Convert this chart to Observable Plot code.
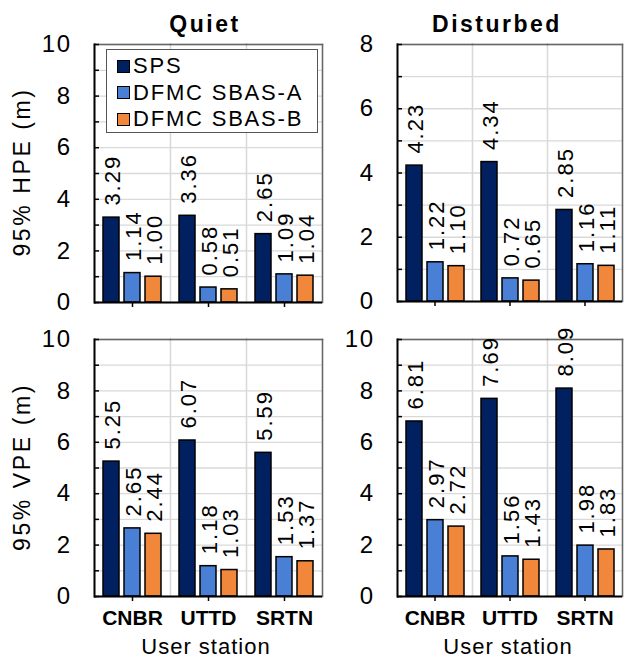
<!DOCTYPE html>
<html><head><meta charset="utf-8">
<script src="https://cdn.jsdelivr.net/npm/d3@7"></script>
<script src="https://cdn.jsdelivr.net/npm/@observablehq/plot@0.6"></script>
<style>
body{margin:0;background:#fff;}
#root{position:relative;width:625px;height:659px;overflow:hidden;font-family:"Liberation Sans",Arial,sans-serif;color:#000;}
.panel{position:absolute;}
.title{position:absolute;font-weight:bold;font-size:23px;letter-spacing:2.5px;width:240px;text-align:center;line-height:26px;}
.ylab{position:absolute;font-size:23px;letter-spacing:2.6px;width:240px;text-align:center;line-height:26px;transform:rotate(-90deg);}
.xlab{position:absolute;font-size:22px;letter-spacing:1px;width:240px;text-align:center;line-height:26px;}
.legend{position:absolute;background:#fff;border:1.5px solid #555;box-sizing:border-box;padding:3px 0 0 10px;}
.legend .row{display:flex;align-items:center;height:26.5px;font-size:22px;letter-spacing:1.8px;white-space:nowrap;}
.legend .sw{width:11px;height:11px;border:1.5px solid #000;margin-right:3px;flex:none;}
</style></head><body><div id="root"></div>
<script>
// ---- data ----
const stations = ["CNBR", "UTTD", "SRTN"];
const seriesNames = ["SPS", "DFMC SBAS-A", "DFMC SBAS-B"];
const seriesColors = ["#002060", "#4a7fd6", "#f0873a"];

const quietHPE_SPS = [3.29, 3.36, 2.65];
const quietHPE_A   = [1.14, 0.58, 1.09];
const quietHPE_B   = [1.00, 0.51, 1.04];

const disturbedHPE_SPS = [4.23, 4.34, 2.85];
const disturbedHPE_A   = [1.22, 0.72, 1.16];
const disturbedHPE_B   = [1.10, 0.65, 1.11];

const quietVPE_SPS = [5.25, 6.07, 5.59];
const quietVPE_A   = [2.65, 1.18, 1.53];
const quietVPE_B   = [2.44, 1.03, 1.37];

const disturbedVPE_SPS = [6.81, 7.69, 8.09];
const disturbedVPE_A   = [2.97, 1.56, 1.98];
const disturbedVPE_B   = [2.72, 1.43, 1.83];

const panelTitles = ["Quiet", "Disturbed"];
const yLabels = ["95% HPE (m)", "95% VPE (m)"];
const xLabel = "User station";

// ---- build ----
const root = document.getElementById("root");

function rowsOf(sps, a, b) {
  const vals = [sps, a, b];
  return stations.flatMap((s, i) => seriesNames.map((n, j) => ({station: s, series: n, value: vals[j][i]})));
}

function makePanel({rows, yMax, left, top, width, height, mL, mR, mT, mB, showStations}) {
  const all = d3.range(0, yMax + 1);
  const even = all.filter(v => v % 2 === 0);
  const fig = Plot.plot({
    width, height,
    marginLeft: mL, marginRight: mR, marginTop: mT, marginBottom: mB,
    style: {background: "transparent", fontFamily: "'Liberation Sans', Arial, sans-serif", overflow: "visible", color: "#000"},
    fx: {domain: stations, padding: 0, label: null},
    x: {domain: seriesNames, axis: null, paddingInner: 0.25, paddingOuter: 0.36},
    y: {domain: [0, yMax], axis: null},
    color: {domain: seriesNames, range: seriesColors},
    marks: [
      Plot.gridY(all, {stroke: "#d9d9d9", strokeOpacity: 1, strokeWidth: 1.3}),
      Plot.frame({stroke: "#d9d9d9", strokeOpacity: 1, strokeWidth: 1.3}),
      Plot.frame({anchor: "top", stroke: "#666", strokeWidth: 1.5}),
      Plot.frame({anchor: "right", facetAnchor: "right", stroke: "#666", strokeWidth: 1.5}),
      Plot.barY(rows, {fx: "station", x: "series", y: "value", fill: "series", stroke: "#000", strokeWidth: 1.5}),
      Plot.text(rows, {fx: "station", x: "series", y: "value", text: d => d.value.toFixed(2),
        rotate: -90, textAnchor: "start", dy: -12, dx: 1, fontSize: 22, fill: "#000",
        style: "letter-spacing:2px"}),
      Plot.ruleY([0], {stroke: "#000", strokeWidth: 2}),
      Plot.frame({anchor: "left", facetAnchor: "left", stroke: "#000", strokeWidth: 2}),
      Plot.axisY(even, {anchor: "left", tickSize: 0, tickPadding: 23, fontSize: 24, label: null}),
      Plot.axisY(all, {anchor: "left", tickSize: 5, dx: 5, fill: "none", label: null, strokeWidth: 1.5}),
      Plot.axisFx({anchor: "bottom", tickSize: 5, tickPadding: 9, fontSize: 21, fontWeight: "bold",
        label: null, strokeWidth: 1.5, ...(showStations ? {} : {fill: "none"})})
    ]
  });
  fig.querySelectorAll("text").forEach(t => {
    if (t.closest("g[aria-label='y-axis tick label']")) t.setAttribute("letter-spacing", "1.5");
  });
  fig.querySelectorAll("g[aria-label='text'] text").forEach(t => t.setAttribute("letter-spacing", "2"));
  const wrap = document.createElement("div");
  wrap.className = "panel";
  wrap.style.left = left + "px";
  wrap.style.top = top + "px";
  wrap.appendChild(fig);
  root.appendChild(wrap);
}

makePanel({rows: rowsOf(quietHPE_SPS, quietHPE_A, quietHPE_B), yMax: 10, left: 0, top: 0, width: 328, height: 316, mL: 93, mR: 6, mT: 44, mB: 14, showStations: false});
makePanel({rows: rowsOf(disturbedHPE_SPS, disturbedHPE_A, disturbedHPE_B), yMax: 8, left: 310, top: 0, width: 315, height: 316, mL: 87, mR: 3, mT: 44, mB: 15, showStations: false});
makePanel({rows: rowsOf(quietVPE_SPS, quietVPE_A, quietVPE_B), yMax: 10, left: 0, top: 320, width: 328, height: 339, mL: 93, mR: 6, mT: 19, mB: 63, showStations: true});
makePanel({rows: rowsOf(disturbedVPE_SPS, disturbedVPE_A, disturbedVPE_B), yMax: 10, left: 310, top: 320, width: 315, height: 339, mL: 86, mR: 3, mT: 19, mB: 63, showStations: true});

function addDiv(cls, text, cx, cy) {
  const d = document.createElement("div");
  d.className = cls;
  d.textContent = text;
  d.style.left = (cx - 120) + "px";
  d.style.top = (cy - 13) + "px";
  root.appendChild(d);
}
addDiv("title", panelTitles[0], 205, 24);
addDiv("title", panelTitles[1], 497, 24);
addDiv("ylab", yLabels[0], 22, 172);
addDiv("ylab", yLabels[1], 22, 467);
addDiv("xlab", xLabel, 206, 647);
addDiv("xlab", xLabel, 508, 647);

// legend
const lg = document.createElement("div");
lg.className = "legend";
lg.style.left = "106px"; lg.style.top = "49px"; lg.style.width = "212px"; lg.style.height = "84px";
seriesNames.forEach((n, i) => {
  const r = document.createElement("div"); r.className = "row";
  const sw = document.createElement("span"); sw.className = "sw"; sw.style.background = seriesColors[i];
  const t = document.createElement("span"); t.textContent = n;
  r.appendChild(sw); r.appendChild(t); lg.appendChild(r);
});
root.appendChild(lg);
</script>
</body></html>
